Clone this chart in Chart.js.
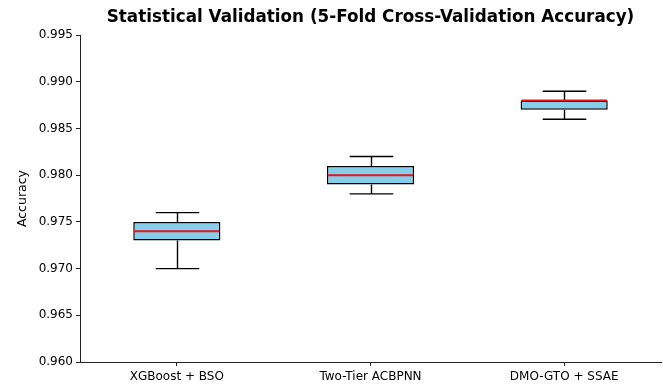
<!DOCTYPE html>
<html>
<head>
<meta charset="utf-8">
<script src="https://cdn.jsdelivr.net/npm/chart.js@4/dist/chart.umd.min.js"></script>
<style>
  html, body { margin: 0; padding: 0; background: #fff; }
  #wrap { width: 663px; height: 385px; }
</style>
</head>
<body>
<div id="wrap"><canvas id="grafico"></canvas></div>
<script>
const modelos = ['XGBoost + BSO', 'Two-Tier ACBPNN', 'DMO-GTO + SSAE'];
const minimos = [0.970, 0.978, 0.986];
const q1s = [0.973, 0.979, 0.987];
const medianas = [0.974, 0.980, 0.988];
const q3s = [0.975, 0.981, 0.988];
const maximos = [0.976, 0.982, 0.989];
const ticksY = [0.960, 0.965, 0.970, 0.975, 0.980, 0.985, 0.990, 0.995];

const fonte = 'DejaVu Sans';

// bigodes e mediana desenhados por cima das caixas
const bigodesPlugin = {
  id: 'bigodes',
  afterDatasetsDraw(chart) {
    const ctx = chart.ctx;
    const y = chart.scales.y;
    const meta = chart.getDatasetMeta(0);
    ctx.save();
    meta.data.forEach((bar, i) => {
      const cx = Math.round(bar.x) + 0.5;
      const half = bar.width / 2;
      const cap = half / 2;
      ctx.strokeStyle = '#000';
      ctx.lineWidth = 1.4;
      ctx.beginPath();
      ctx.moveTo(cx, y.getPixelForValue(q3s[i]));
      ctx.lineTo(cx, y.getPixelForValue(maximos[i]));
      ctx.moveTo(cx, y.getPixelForValue(q1s[i]));
      ctx.lineTo(cx, y.getPixelForValue(minimos[i]));
      ctx.moveTo(cx - cap, y.getPixelForValue(maximos[i]));
      ctx.lineTo(cx + cap, y.getPixelForValue(maximos[i]));
      ctx.moveTo(cx - cap, y.getPixelForValue(minimos[i]));
      ctx.lineTo(cx + cap, y.getPixelForValue(minimos[i]));
      ctx.stroke();
      // mediana em vermelho, mesma largura da caixa
      ctx.strokeStyle = '#e81518';
      ctx.lineWidth = 2;
      ctx.beginPath();
      ctx.moveTo(bar.x - half + 0.75, y.getPixelForValue(medianas[i]));
      ctx.lineTo(bar.x + half - 0.75, y.getPixelForValue(medianas[i]));
      ctx.stroke();
    });
    ctx.restore();
  }
};

const ctx = document.getElementById('grafico').getContext('2d');
new Chart(ctx, {
  type: 'bar',
  data: {
    labels: modelos,
    datasets: [{
      label: 'Acurácia',
      data: modelos.map((m, i) => [q1s[i], q3s[i]]),
      backgroundColor: '#87CEEB',
      borderColor: '#000',
      borderWidth: 1.5,
      borderSkipped: false,
      barPercentage: 0.45,
      categoryPercentage: 1.0
    }]
  },
  options: {
    responsive: true,
    maintainAspectRatio: false,
    animation: false,
    layout: { padding: { left: 0, right: 2, top: 0, bottom: 0 } },
    plugins: {
      legend: { display: false },
      tooltip: { enabled: false },
      title: {
        display: true,
        fullSize: false,
        text: 'Statistical Validation (5-Fold Cross-Validation Accuracy)',
        color: '#000',
        font: { family: fonte, size: 16.8, weight: 'bold' },
        padding: { top: 8, bottom: 7 }
      }
    },
    scales: {
      x: {
        offset: true,
        grid: { display: true, drawOnChartArea: false, drawTicks: true, tickLength: 4, color: '#222', offset: false },
        border: { display: true, color: '#222', width: 1 },
        ticks: { color: '#000', font: { family: fonte, size: 12 }, padding: 4, maxRotation: 0 },
        afterFit: (s) => { s.height = 23; }
      },
      y: {
        min: ticksY[0],
        max: ticksY[ticksY.length - 1],
        afterBuildTicks: (s) => { s.ticks = ticksY.map(v => ({ value: v })); },
        grid: { display: true, drawOnChartArea: false, drawTicks: true, tickLength: 4, color: '#222' },
        border: { display: true, color: '#222', width: 1 },
        ticks: {
          color: '#000',
          font: { family: fonte, size: 12 },
          padding: 3,
          callback: (v) => Number(v).toFixed(3)
        },
        title: {
          display: true,
          text: 'Accuracy',
          color: '#000',
          font: { family: fonte, size: 12.5 },
          padding: { top: 15, bottom: 4 }
        },
        afterFit: (s) => { s.width = 80; }
      }
    }
  },
  plugins: [bigodesPlugin]
});
</script>
</body>
</html>
